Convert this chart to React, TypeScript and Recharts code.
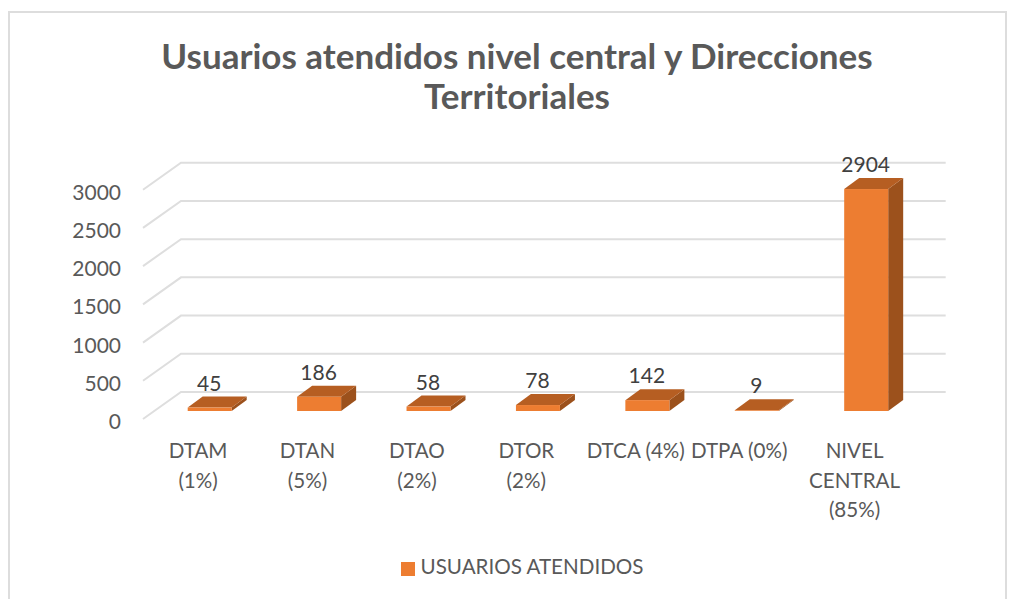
import React from 'react';
import { BarChart, Bar, XAxis, YAxis, CartesianGrid, Legend, LabelList } from 'recharts';

const categories = ['DTAM (1%)', 'DTAN (5%)', 'DTAO (2%)', 'DTOR (2%)', 'DTCA (4%)', 'DTPA (0%)', 'NIVEL CENTRAL (85%)'];
const tickLines = [['DTAM', '(1%)'], ['DTAN', '(5%)'], ['DTAO', '(2%)'], ['DTOR', '(2%)'], ['DTCA (4%)'], ['DTPA (0%)'], ['NIVEL', 'CENTRAL', '(85%)']];
const users = [45, 186, 58, 78, 142, 9, 2904];
const yTicks = [0, 500, 1000, 1500, 2000, 2500, 3000];
const seriesName = 'USUARIOS ATENDIDOS';
const titleLines = ['Usuarios atendidos nivel central y Direcciones', 'Territoriales'];

const data = categories.map((c, i) => ({ category: c, lines: tickLines[i], value: users[i] }));

const FONT = 'Lato, "Open Sans", sans-serif';
const DX = 15;
const DY = 11;

function Bar3D(props: any) {
  const { x, y, width, height } = props;
  const r = x + width;
  const b = y + height;
  return (
    <g>
      <polygon points={`${r},${y} ${r + DX},${y - DY} ${r + DX},${b - DY} ${r},${b}`} fill="#9C511C" />
      <polygon points={`${x},${y} ${x + DX},${y - DY} ${r + DX},${y - DY} ${r},${y}`} fill="#B65E22" />
      <rect x={x} y={y} width={width} height={Math.max(height, 0.5)} fill="#ED7D31" />
    </g>
  );
}

function GridLine3D(props: any) {
  const { x1, x2, y1 } = props;
  return (
    <polyline
      points={`${x1 - 11.7},${y1 + 8} ${x1 + 26.3},${y1 - 19} ${x2 + 25.1},${y1 - 19}`}
      fill="none"
      stroke="#DEDEDE"
      strokeWidth={2}
    />
  );
}

function XTick(props: any) {
  const { x, y, index } = props;
  const lines = tickLines[index] || [];
  const nudge = index === 5 ? -6 : 0;
  return (
    <text x={x - 11.3 + nudge} y={y} textAnchor="middle" fill="#595959" fontSize={20.6} fontFamily={FONT}>
      {lines.map((l, i) => (
        <tspan key={l} x={x - 11.3 + nudge} y={y + 39 + i * 29.5}>{l}</tspan>
      ))}
    </text>
  );
}

function YTick(props: any) {
  const { y, payload } = props;
  return (
    <text x={121} y={y + 18} textAnchor="end" fill="#595959" fontSize={21} fontFamily={FONT}>
      {payload.value}
    </text>
  );
}

function ValueLabel(props: any) {
  const { x, y, width, value } = props;
  return (
    <text x={x + width / 2 - 0.5} y={y - 17} textAnchor="middle" fill="#404040" fontSize={21} fontFamily={FONT}>
      {value}
    </text>
  );
}

export default function App() {
  return (
    <div style={{ position: 'absolute', left: 0, top: 0, width: 1010, height: 599, overflow: 'hidden', background: '#fff' }}>
      <div style={{ position: 'absolute', left: 8, top: 11, width: 999, height: 600, border: '2px solid #DDDDDD', boxSizing: 'border-box' }} />
      <div style={{ position: 'absolute', left: 0, top: 35, width: 1034, textAlign: 'center', fontFamily: FONT, fontWeight: 700, fontSize: 35, lineHeight: '40px', color: '#595959' }}>
        {titleLines.map((t) => <div key={t}>{t}</div>)}
      </div>
      <div style={{ position: 'absolute', left: 0, top: 0 }}>
        <BarChart width={1010} height={599} data={data} margin={{ top: 181.7, right: 89.4, bottom: 0, left: 0 }} barSize={44}>
          <CartesianGrid vertical={false} horizontal={(p: any) => <GridLine3D key={p.key} {...p} />} />
          <XAxis dataKey="category" height={188} axisLine={false} tickLine={false} interval={0} tick={<XTick />} />
          <YAxis width={154.7} domain={[0, 3000]} ticks={yTicks} axisLine={false} tickLine={false} tick={<YTick />} />
          <Legend
            verticalAlign="middle"
            iconType="square"
            iconSize={14}
            wrapperStyle={{ top: 554, left: 0, width: 1054, fontFamily: FONT, fontSize: 20.6 }}
            formatter={(v: string) => <span style={{ color: '#595959', marginLeft: 2 }}>{v}</span>}
          />
          <Bar dataKey="value" name={seriesName} fill="#ED7D31" shape={<Bar3D />} isAnimationActive={false}>
            <LabelList dataKey="value" content={<ValueLabel />} />
          </Bar>
        </BarChart>
      </div>
    </div>
  );
}
